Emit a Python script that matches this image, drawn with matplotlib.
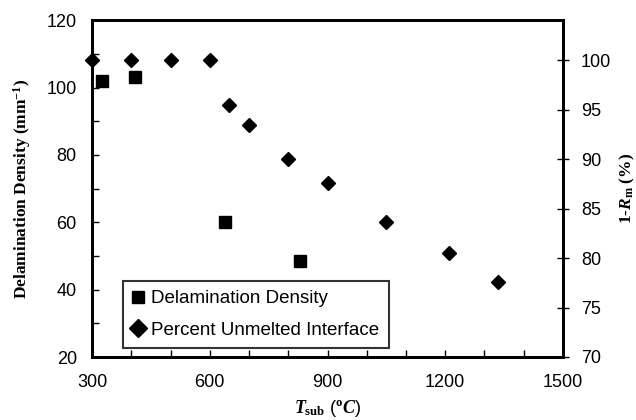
import matplotlib
matplotlib.use("Agg")
import matplotlib.pyplot as plt
from matplotlib.ticker import MultipleLocator
from matplotlib.lines import Line2D

# Data
delam_T = [325, 410, 640, 830]
delam_density = [102, 103, 60, 48.5]
unmelt_T = [300, 400, 500, 600, 650, 700, 800, 900, 1050, 1210, 1335]
unmelt_pct = [100, 100, 100, 100, 95.5, 93.5, 90, 87.6, 83.6, 80.5, 77.6]

x_ticks = [300, 600, 900, 1200, 1500]
left_ticks = [20, 40, 60, 80, 100, 120]
right_ticks = [70, 75, 80, 85, 90, 95, 100]

plt.rcParams['font.family'] = ['Liberation Sans', 'DejaVu Sans']
plt.rcParams['mathtext.fontset'] = 'custom'
plt.rcParams['mathtext.rm'] = 'Liberation Serif:bold'
plt.rcParams['mathtext.it'] = 'Liberation Serif:bold:italic'
plt.rcParams['mathtext.bf'] = 'Liberation Serif:bold'

fig = plt.figure(figsize=(6.36, 4.2), dpi=100)
ax = fig.add_axes([0.1447, 0.15, 0.7405, 0.802])
ax2 = ax.twinx()

ax.plot(delam_T, delam_density, linestyle='none', marker='s', ms=9,
        color='black', zorder=3)
ax2.plot(unmelt_T, unmelt_pct, linestyle='none', marker='D', ms=7.5,
         color='black', zorder=3, clip_on=False)

ax.set_xlim(300, 1500)
ax.set_ylim(20, 120)
ax2.set_ylim(70, 104.05)

ax.set_xticks(x_ticks)
ax.xaxis.set_minor_locator(MultipleLocator(100))
ax.set_yticks(left_ticks)
ax.yaxis.set_minor_locator(MultipleLocator(10))
ax2.set_yticks(right_ticks)

ax.tick_params(axis='both', which='major', direction='in', length=5,
               width=1, labelsize=13)
ax.tick_params(axis='x', which='major', pad=12)
ax.tick_params(axis='y', which='major', pad=11)
ax.tick_params(axis='both', which='minor', direction='in', length=5, width=1)
ax.tick_params(axis='y', which='both', right=False)
ax.tick_params(axis='x', which='both', top=False)
ax2.tick_params(axis='y', which='major', direction='inout', length=8,
                width=1, labelsize=13, pad=9)

for a in (ax, ax2):
    for s in a.spines.values():
        s.set_linewidth(2)

ax.set_ylabel('Delamination Density (mm$^{\\mathbf{-1}}$)',
              family='Liberation Serif', fontweight='bold', fontsize=12.5,
              labelpad=10)
ax2.set_ylabel('1-$R_{\\mathrm{m}}$ (%)', family='Liberation Serif',
               fontweight='bold', fontsize=12.5, labelpad=5)
ax.set_xlabel('$T_{\\mathrm{sub}}$ ($^{\\mathrm{o}}C$)', fontsize=13,
              labelpad=5)

handles = [
    Line2D([], [], linestyle='none', marker='s', ms=9, color='black',
           label='Delamination Density'),
    Line2D([], [], linestyle='none', marker='D', ms=9, color='black',
           label='Percent Unmelted Interface'),
]
leg = ax.legend(handles=handles, loc='lower left',
                bbox_to_anchor=(0.066, 0.027), fontsize=13.5, frameon=True,
                fancybox=False, edgecolor='black', handlelength=0.6,
                handletextpad=0.4, borderpad=0.5, labelspacing=0.75,
                borderaxespad=0)
leg.get_frame().set_linewidth(1.5)
leg.set_zorder(5)

fig.savefig('out.png', dpi=100)
